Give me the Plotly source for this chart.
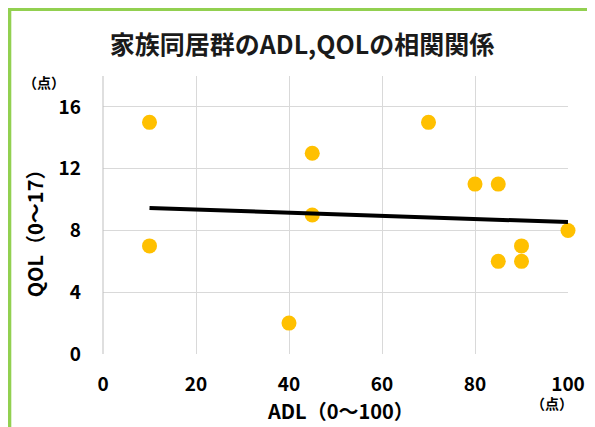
import plotly.graph_objects as go

# Data
adl = [10, 10, 40, 45, 45, 70, 80, 85, 85, 90, 90, 100]
qol = [15, 7, 2, 13, 9, 15, 11, 11, 6, 7, 6, 8]
trend_x = [10, 100]
trend_y = [9.46, 8.54]
x_ticks = [0, 20, 40, 60, 80, 100]
y_ticks = [0, 4, 8, 12, 16]

FONT = "Noto Sans CJK JP"
W, H = 595, 427
OFF = 8  # default page (body) margin of the browser
# plot area in page pixels: x 102.7..567.7, y 76..354
L, T = 102.7 - OFF, 76 - OFF
R, B = W - (567.7 - OFF), H - (354 - OFF)
pw, ph = W - L - R, H - T - B

def px(x):
    return (x - OFF - L) / pw

def py(y):
    return (T + ph - (y - OFF)) / ph

fig = go.Figure()
fig.add_trace(go.Scatter(x=adl, y=qol, mode="markers",
                         marker=dict(color="#FFC000", size=15, line=dict(width=0)),
                         showlegend=False, cliponaxis=False))
fig.add_trace(go.Scatter(x=trend_x, y=trend_y, mode="lines",
                         line=dict(color="#000000", width=4),
                         showlegend=False))

fig.update_layout(
    width=W, height=H,
    margin=dict(l=L, r=R, t=T, b=B),
    paper_bgcolor="white", plot_bgcolor="white",
    font=dict(family=FONT, color="#000000"),
    title=dict(text="家族同居群のADL,QOLの相関関係", x=(302 - OFF) / W, xanchor="center",
               y=1 - (45 - OFF) / H, yanchor="middle",
               font=dict(family=FONT, size=25, weight="bold", color="#1a1a1a")),
    xaxis=dict(range=[0, 100], tickvals=x_ticks, showgrid=True, gridcolor="#D9D9D9",
               gridwidth=1, zeroline=False, showline=False,
               tickfont=dict(family=FONT, size=19, weight="bold", color="#000000"),
               ticks="", ticklabelstandoff=17, fixedrange=True),
    yaxis=dict(range=[0, 18], tickvals=y_ticks, showgrid=True, gridcolor="#D9D9D9",
               gridwidth=1, zeroline=False, showline=False,
               tickfont=dict(family=FONT, size=19, weight="bold", color="#000000"),
               ticks="", ticklabelstandoff=21, fixedrange=True),
    shapes=[
        dict(type="line", xref="paper", yref="paper", x0=px(102.7), x1=px(102.7),
             y0=py(354), y1=py(76), line=dict(color="#BFBFBF", width=1)),
        dict(type="line", xref="paper", yref="paper", x0=px(9), x1=px(9),
             y0=py(460), y1=py(7), line=dict(color="#92D050", width=4)),
        dict(type="line", xref="paper", yref="paper", x0=px(7), x1=px(620),
             y0=py(9), y1=py(9), line=dict(color="#92D050", width=4)),
    ],
    annotations=[
        dict(text="ADL（0～100）", xref="paper", yref="paper", x=px(340), y=py(410),
             showarrow=False, xanchor="center", yanchor="middle",
             font=dict(family=FONT, size=20, weight="bold", color="#000000")),
        dict(text="QOL（0～17）", xref="paper", yref="paper", x=px(35), y=py(228),
             showarrow=False, xanchor="center", yanchor="middle", textangle=-90,
             font=dict(family=FONT, size=20, weight="bold", color="#000000")),
        dict(text="（点）", xref="paper", yref="paper", x=px(44), y=py(82),
             showarrow=False, xanchor="center", yanchor="middle",
             font=dict(family=FONT, size=14, weight="bold", color="#000000")),
        dict(text="（点）", xref="paper", yref="paper", x=px(552), y=py(403),
             showarrow=False, xanchor="center", yanchor="middle",
             font=dict(family=FONT, size=14, weight="bold", color="#000000")),
    ],
)

fig.write_html("out.html", config=dict(displayModeBar=False))
